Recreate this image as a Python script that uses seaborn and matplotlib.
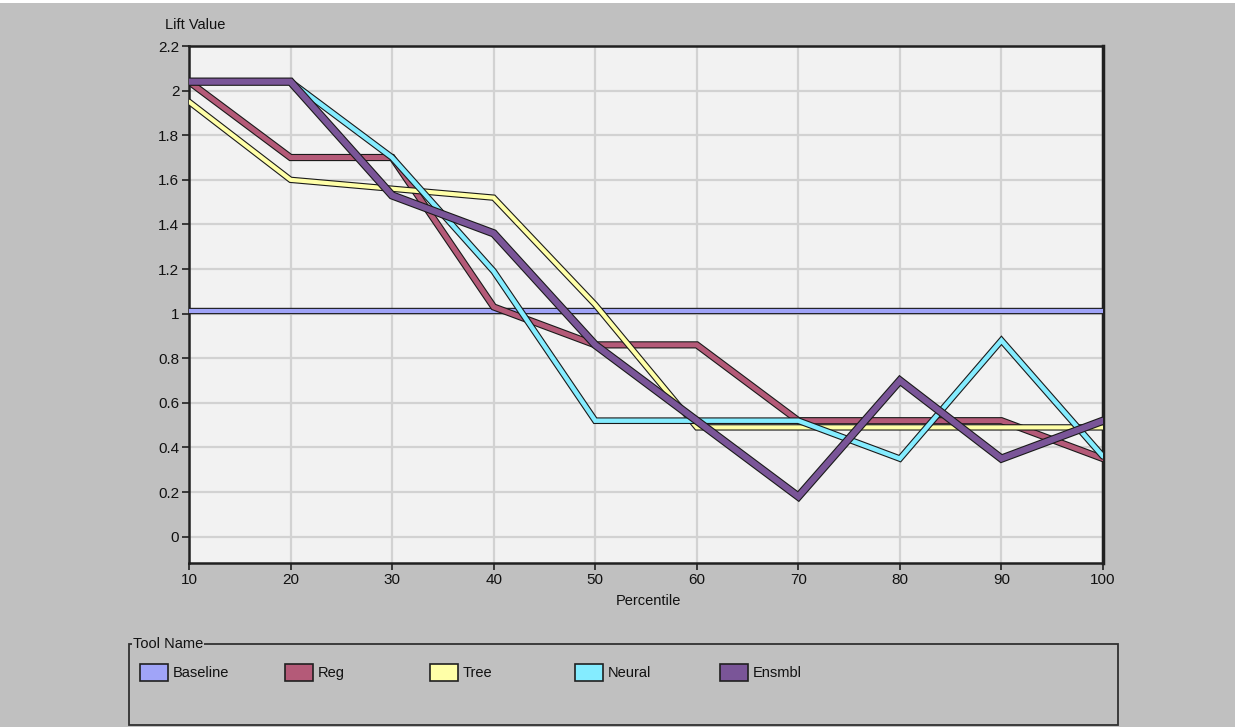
import matplotlib
matplotlib.use("Agg")
import matplotlib.pyplot as plt
import matplotlib.patheffects as pe
from matplotlib.patches import Rectangle
from matplotlib.lines import Line2D
import seaborn as sns
import pandas as pd

# Lift values, one list per tool
percentile = [10, 20, 30, 40, 50, 60, 70, 80, 90, 100]
baseline = [1.01, 1.01, 1.01, 1.01, 1.01, 1.01, 1.01, 1.01, 1.01, 1.01]
reg = [2.04, 1.70, 1.70, 1.03, 0.86, 0.86, 0.52, 0.52, 0.52, 0.35]
tree = [1.95, 1.60, 1.56, 1.52, 1.04, 0.49, 0.49, 0.49, 0.49, 0.49]
neural = [2.04, 2.04, 1.70, 1.19, 0.52, 0.52, 0.52, 0.35, 0.88, 0.36]
ensmbl = [2.04, 2.04, 1.53, 1.36, 0.86, 0.52, 0.18, 0.70, 0.35, 0.52]

tool_names = ["Baseline", "Reg", "Tree", "Neural", "Ensmbl"]
tool_colors = ["#a0a4f8", "#b45a78", "#ffffa8", "#84ecff", "#7a5598"]
y_ticks = [0, 0.2, 0.4, 0.6, 0.8, 1, 1.2, 1.4, 1.6, 1.8, 2, 2.2]

series = [baseline, reg, tree, neural, ensmbl]
df = pd.concat(
    [pd.DataFrame({"Percentile": percentile, "Lift": vals, "Tool": name})
     for name, vals in zip(tool_names, series)],
    ignore_index=True,
)

sns.set_theme(style="white")
plt.rcParams["font.family"] = ["Liberation Sans", "DejaVu Sans"]

W, H = 1235, 727
fig = plt.figure(figsize=(W / 100, H / 100), dpi=100, facecolor="#c0c0c0")
ax = fig.add_axes([189 / W, 1 - 563 / H, (1103 - 189) / W, (563 - 46) / H])
ax.set_facecolor("#f2f2f2")

sns.lineplot(data=df, x="Percentile", y="Lift", hue="Tool",
             palette=dict(zip(tool_names, tool_colors)), hue_order=tool_names,
             legend=False, ax=ax, zorder=3)

# thick colored lines with a dark outline, like the old chart control
widths = {"Baseline": 3.0, "Reg": 3.6, "Tree": 3.0, "Neural": 3.2, "Ensmbl": 4.4}
for line, name in zip(ax.lines, tool_names):
    lw = widths[name]
    line.set_linewidth(lw)
    line.set_solid_joinstyle("miter")
    line.set_path_effects([pe.Stroke(linewidth=lw + 1.6, foreground="#1a1a1a"),
                           pe.Normal()])

ax.set_xlim(10, 100)
ax.set_ylim(-0.118, 2.2)
ax.set_xticks(percentile)
ax.set_yticks(y_ticks)
ax.set_yticklabels([f"{t:g}" for t in y_ticks])
ax.grid(True, color="#d2d2d2", linewidth=1.6)
ax.set_axisbelow(True)
ax.tick_params(axis="both", direction="out", length=5, width=1.2, color="#202020",
               labelsize=11, labelcolor="#111111", pad=2, left=True, bottom=True)
for side in ["left", "bottom", "top", "right"]:
    ax.spines[side].set_visible(True)
    ax.spines[side].set_color("#202020")
    ax.spines[side].set_linewidth(1.8)
ax.spines["right"].set_linewidth(2.5)
ax.set_xlabel("")
ax.set_ylabel("")

fig.text(165 / W, 1 - 25 / H, "Lift Value", fontsize=10.5, ha="left", va="center", color="#111111")
fig.text(648 / W, 1 - 601 / H, "Percentile", fontsize=10.5, ha="center", va="center", color="#111111")

# white strip where the page title is cut off
fig.patches.append(Rectangle((0, 1 - 3 / H), 1, 3 / H, transform=fig.transFigure,
                             facecolor="white", edgecolor="none"))

# group box legend
bx0, bx1, by0, by1 = 129, 1118, 644, 725
def fx(px):
    return px / W
def fy(py):
    return 1 - py / H
fig.patches.append(Rectangle((fx(bx0), fy(by1)), (bx1 - bx0) / W, (by1 - by0) / H,
                             transform=fig.transFigure, facecolor="none",
                             edgecolor="#303030", linewidth=1.3))
fig.text(fx(133), fy(644), "Tool Name", fontsize=10.5, ha="left", va="center", color="#111111",
         bbox=dict(facecolor="#c0c0c0", edgecolor="none", pad=0.5))

for i, (name, col) in enumerate(zip(tool_names, tool_colors)):
    x0 = 140 + i * 145
    fig.patches.append(Rectangle((fx(x0), fy(681)), 28 / W, 17 / H, transform=fig.transFigure,
                                 facecolor=col, edgecolor="#202020", linewidth=1.2))
    fig.text(fx(x0 + 33), fy(673), name, fontsize=10.5, ha="left", va="center", color="#111111")

fig.savefig("out.png", dpi=100, facecolor=fig.get_facecolor())
